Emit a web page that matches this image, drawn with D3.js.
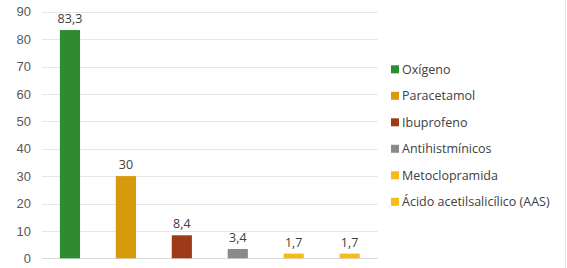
<!DOCTYPE html>
<html>
<head>
<meta charset="utf-8">
<script src="https://cdn.jsdelivr.net/npm/d3@7"></script>
<style>
  body { margin: 0; background: #fff; }
  svg { display: block; font-family: "Open Sans", "Noto Sans", sans-serif; }
</style>
</head>
<body>
<div id="chart"></div>
<script>
const categories = ["Oxígeno", "Paracetamol", "Ibuprofeno", "Antihistmínicos", "Metoclopramida", "Ácido acetilsalicílico (AAS)"];
const values = [83.3, 30, 8.4, 3.4, 1.7, 1.7];
const colors = ["#2e8b30", "#d69a0c", "#9e3a1a", "#8a8a8a", "#f6b91a", "#f8bc17"];
const yTicks = [0, 10, 20, 30, 40, 50, 60, 70, 80, 90];

const width = 567, height = 268;
const margin = {top: 11.7, right: 190, bottom: 9.7, left: 42};

const svg = d3.select("#chart").append("svg")
    .attr("width", width)
    .attr("height", height);

// frame on the right edge
svg.append("line")
    .attr("x1", 565.5).attr("x2", 565.5)
    .attr("y1", 0).attr("y2", height)
    .attr("stroke", "#e4e4e4");

const x = d3.scaleBand()
    .domain(categories)
    .range([margin.left, width - margin.right + 0.6])
    .paddingInner(0.64)
    .paddingOuter(0.32);

const y = d3.scaleLinear()
    .domain([0, 90])
    .range([height - margin.bottom, margin.top]);

const fmt = d => String(d).replace(".", ",");

// gridlines
svg.append("g")
    .selectAll("line")
    .data(yTicks)
    .join("line")
    .attr("x1", margin.left)
    .attr("x2", width - margin.right + 0.6)
    .attr("y1", d => Math.round(y(d)) + 0.5)
    .attr("y2", d => Math.round(y(d)) + 0.5)
    .attr("stroke", d => d === 0 ? "#d9d9d9" : "#e6e6e6")
    .attr("stroke-width", 1.2);

// y axis labels
const yAxis = svg.append("g")
    .attr("transform", `translate(${margin.left},0)`)
    .call(d3.axisLeft(y).tickValues(yTicks).tickSize(0).tickPadding(11));
yAxis.select(".domain").remove();
yAxis.selectAll("text")
    .attr("fill", "#595959")
    .style("font-size", "13px");

// bars
svg.append("g")
    .selectAll("rect")
    .data(values)
    .join("rect")
    .attr("x", (d, i) => x(categories[i]))
    .attr("y", d => y(d))
    .attr("width", x.bandwidth())
    .attr("height", d => y(0) - y(d))
    .attr("fill", (d, i) => colors[i]);

// value labels
svg.append("g")
    .selectAll("text")
    .data(values)
    .join("text")
    .attr("x", (d, i) => x(categories[i]) + x.bandwidth() / 2)
    .attr("y", d => y(d) - 7)
    .attr("text-anchor", "middle")
    .attr("fill", "#404040")
    .style("font-size", "12.5px")
    .text(d => fmt(d));

// legend
const legend = svg.append("g")
    .selectAll("g")
    .data(categories)
    .join("g")
    .attr("transform", (d, i) => `translate(391,${69.3 + i * 26.5})`);

legend.append("rect")
    .attr("x", 0)
    .attr("y", -4)
    .attr("width", 8)
    .attr("height", 8)
    .attr("fill", (d, i) => colors[i]);

legend.append("text")
    .attr("x", 11)
    .attr("y", 0)
    .attr("dy", "0.35em")
    .attr("fill", "#404040")
    .style("font-size", "12.5px")
    .text(d => d);
</script>
</body>
</html>
